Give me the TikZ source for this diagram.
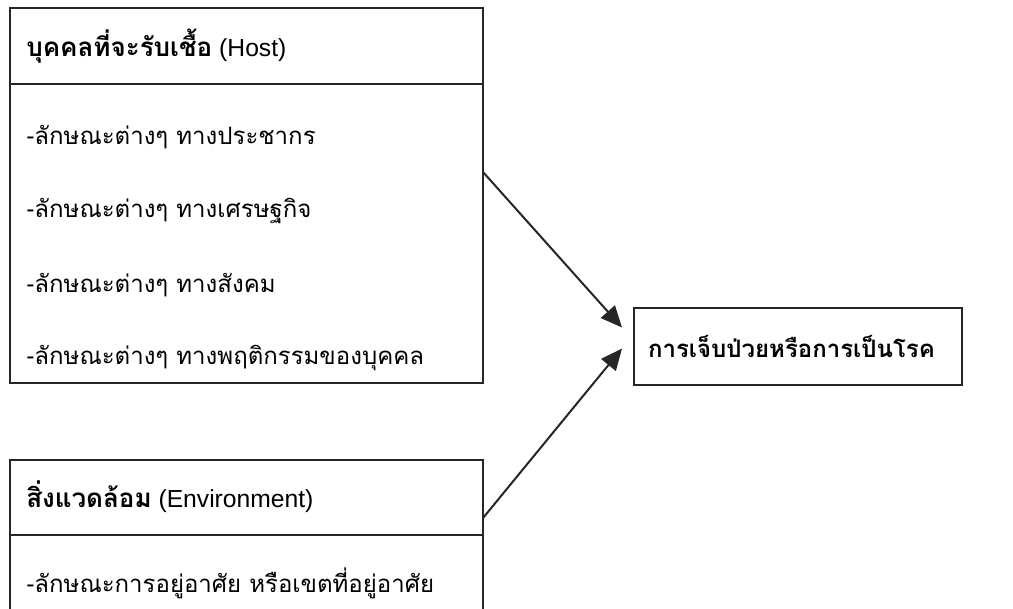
\documentclass[tikz,border=0pt]{standalone}
\usepackage{fontspec}
\setmainfont{Liberation Sans}
\newfontfamily\thai[Script=Thai]{Loma}
\newcommand{\thaihead}[1]{{\thai\bfseries\fontsize{19.5}{24}\selectfont #1}}
\newcommand{\thaibody}[1]{{\thai\fontsize{18}{22}\selectfont #1}}
\usetikzlibrary{arrows.meta,calc}
\begin{document}
\begin{tikzpicture}[x=0.75pt,y=-0.75pt,
  boxpart/.style={draw=black!85, line width=1.3pt, minimum width=354.75pt, anchor=north west, inner sep=0pt, outer sep=0pt},
  txt/.style={anchor=west, inner sep=0pt, font=\fontsize{18.5}{22}\selectfont},
  conn/.style={draw=black!85, line width=1.5pt, -{Triangle[length=16pt,width=14pt]}}]
\path[use as bounding box] (0,0) rectangle (1013,608);
\clip (0,0) rectangle (1013,608);
% host box
\node[boxpart, minimum height=57pt] (hosthead) at (10,8) {};
\node[boxpart, minimum height=224.25pt] (hostbody) at (10,84) {};
\node[txt] (hostt) at (26,46) {\thaihead{บุคคลที่จะรับเชื้อ} (Host)};
\node[txt] (h1) at (26,137) {-\thaibody{ลักษณะต่างๆ ทางประชากร}};
\node[txt] (h2) at (26,211) {-\thaibody{ลักษณะต่างๆ ทางเศรษฐกิจ}};
\node[txt] (h3) at (26,285) {-\thaibody{ลักษณะต่างๆ ทางสังคม}};
\node[txt] (h4) at (26,358) {-\thaibody{ลักษณะต่างๆ ทางพฤติกรรมของบุคคล}};
% environment box
\node[boxpart, minimum height=56.25pt] (envhead) at (10,460) {};
\node[boxpart, minimum height=75pt] (envbody) at (10,535) {};
\node[txt] (envt) at (26,497) {\thaihead{สิ่งแวดล้อม} (Environment)};
\node[txt] (e1) at (26,583) {-\thaibody{ลักษณะการอยู่อาศัย หรือเขตที่อยู่อาศัย}};
% target
\node[draw=black!85, line width=1.3pt, anchor=north west, minimum width=246pt, minimum height=57.75pt,
      text width=225pt, align=left, inner xsep=10.5pt, inner ysep=0pt, outer sep=0pt]
      (tgt) at (634,308) {{\thai\bfseries\fontsize{18}{22}\selectfont การเจ็บป่วยหรือการเป็นโรค}};
\coordinate (s1) at (483,172);
\coordinate (s2) at (483,518);
\coordinate (t1) at ($(tgt.west)+(-12,-19)$);
\coordinate (t2) at ($(tgt.west)+(-12,2)$);
\draw[conn] (s1) -- (t1);
\draw[conn] (s2) -- (t2);
\end{tikzpicture}
\end{document}
